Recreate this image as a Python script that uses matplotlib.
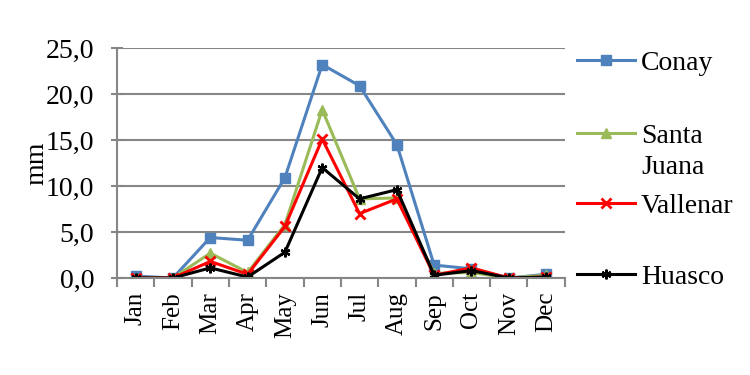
import numpy as np
import matplotlib.pyplot as plt
from matplotlib.lines import Line2D
from matplotlib.ticker import FuncFormatter

months = ["Jan", "Feb", "Mar", "Apr", "May", "Jun", "Jul", "Aug", "Sep", "Oct", "Nov", "Dec"]
conay = [0.2, 0.0, 4.4, 4.1, 10.9, 23.2, 20.9, 14.5, 1.4, 1.0, 0.0, 0.4]
santa_juana = [0.0, 0.0, 2.7, 0.6, 5.8, 18.3, 8.6, 8.7, 0.5, 0.6, 0.0, 0.3]
vallenar = [0.0, 0.0, 1.8, 0.4, 5.6, 15.1, 7.0, 8.6, 0.3, 1.1, 0.0, 0.1]
huasco = [0.0, 0.0, 1.1, 0.1, 2.8, 12.0, 8.6, 9.6, 0.3, 0.8, 0.0, 0.1]

serif = ["Liberation Serif", "DejaVu Serif"]
plt.rcParams["font.family"] = serif
grey = "#868686"

fig = plt.figure(figsize=(7.5, 3.75), dpi=100)
ax = fig.add_axes([0.156, 0.2587, 0.597, 0.6133])

x = np.arange(len(months))
l1, = ax.plot(x, conay, color="#4F81BD", lw=2.2, marker="s", ms=7.5)
l2, = ax.plot(x, santa_juana, color="#9BBB59", lw=2.2, marker="^", ms=7.5)
l3, = ax.plot(x, vallenar, color="#FF0000", lw=2.2, marker="x", ms=7, mew=2)
l4, = ax.plot(x, huasco, color="black", lw=2.2, marker=(6, 2, 0), ms=7, mew=1.6)

ax.set_xlim(-0.5, 11.5)
ax.set_ylim(0, 25)
ax.set_yticks(np.arange(0, 26, 5))
ax.yaxis.set_major_formatter(FuncFormatter(lambda v, p: f"{v:.1f}".replace(".", ",")))
ax.set_xticks(x)
ax.set_xticklabels(months, rotation=90, fontsize=18, family=serif)
ax.set_xticks(np.arange(-0.5, 12, 1), minor=True)
ax.tick_params(axis="x", which="major", length=0, pad=10)
ax.tick_params(axis="x", which="minor", length=6.5, color=grey, width=1.5)
ax.tick_params(axis="y", direction="inout", length=9, color=grey, width=1.5,
               labelsize=20, pad=12)
for t in ax.get_yticklabels():
    t.set_family(serif)
ax.set_ylabel("mm", fontsize=20, family=serif)
ax.yaxis.set_label_coords(-0.152, 0.5)

ax.grid(axis="y", color=grey, lw=1.5)
ax.set_axisbelow(True)
for s in ["top", "right"]:
    ax.spines[s].set_visible(False)
for s in ["left", "bottom"]:
    ax.spines[s].set_color(grey)
    ax.spines[s].set_linewidth(1.5)

# legend entries placed one by one, like the Excel legend
blank = Line2D([], [], lw=0)
entries = [(l1, "Conay", 63), (l2, "Santa", 136), (blank, "Juana", 167),
           (l3, "Vallenar", 206), (l4, "Huasco", 277)]
for h, lab, ypix in entries:
    fig.legend([h], [lab], loc="center left", bbox_to_anchor=(577 / 750, 1 - ypix / 375),
               frameon=False, prop={"family": serif, "size": 20}, borderpad=0,
               borderaxespad=0, handlelength=2.1, handletextpad=0.2)

fig.savefig("out.png", dpi=100)
